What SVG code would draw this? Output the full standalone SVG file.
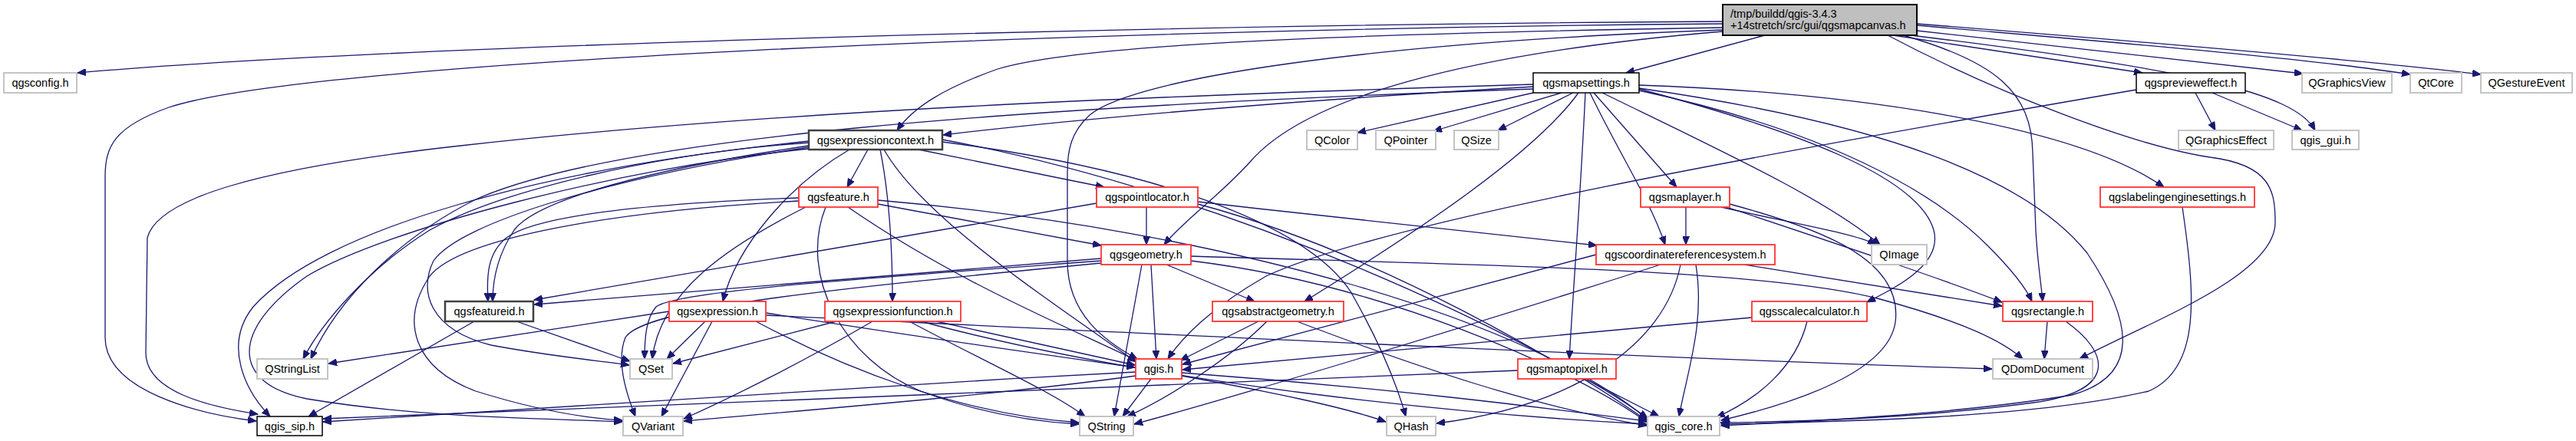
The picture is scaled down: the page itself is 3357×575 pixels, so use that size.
<svg xmlns="http://www.w3.org/2000/svg" width="3357" height="575" viewBox="0 0 3357 575">
<style>
.n rect{fill:#fff}
.b rect{stroke:#000;stroke-width:1.5}
.d rect{stroke:#404040;stroke-width:2.5}
.r rect{stroke:#ff3333;stroke-width:1.8}
.g rect{stroke:#c4c4c4;stroke-width:2}
text{font-family:"Liberation Sans",Arial,sans-serif;font-size:14.5px;fill:#000;text-anchor:middle}
#edges path{fill:none;stroke:#191970;stroke-width:1.3}
</style>
<defs>
<marker id="ah" markerWidth="12" markerHeight="9" refX="11" refY="4.5" orient="auto" markerUnits="userSpaceOnUse">
<path d="M0,0 L11,4.5 L0,9 z" fill="#191970" stroke="#191970" stroke-width="1"/>
</marker>
</defs>
<rect width="3357" height="575" fill="#fff"/>
<g id="edges" marker-end="url(#ah)">
<!-- top node -->
<path d="M2245,28 C1500,32 500,60 101,95"/>
<path d="M2245,31 C1400,38 400,80 220,140 C150,165 137,190 137,230 L137,440 C137,510 260,540 334,549"/>
<path d="M2300,46 L2119,95"/>
<path d="M2245,36 C1700,45 1400,60 1300,90 C1230,115 1190,140 1169,170"/>
<path d="M2245,41 C1900,70 1700,130 1630,210 C1590,255 1545,285 1517,319"/>
<path d="M2245,39 C1800,55 1480,100 1420,150 C1396,172 1391,195 1391,225 L1391,340 C1391,410 1440,445 1482,468"/>
<path d="M2467,46 L2792,95"/>
<path d="M2498,40 L3001,96"/>
<path d="M2498,33 C2750,55 3000,75 3141,97"/>
<path d="M2498,31 C2800,55 3100,80 3233,97"/>
<path d="M2490,46 C2850,90 2990,120 3017,170"/>
<path d="M2480,46 C2600,80 2648,120 2649,200 L2653,300 C2655,340 2660,370 2662,393"/>
<path d="M2460,46 C2600,120 2780,190 2880,205 C2960,215 2965,250 2965,290 C2965,360 2800,420 2710,468"/>
<!-- qgsmapsettings -->
<path d="M1998,113 C1700,130 1400,155 1229,176"/>
<path d="M1998,110 C1500,125 1000,145 600,190 C330,220 205,260 192,310 L190,460 C190,510 270,530 336,540"/>
<path d="M1998,116 C1300,140 800,180 620,260 C520,310 440,390 405,468"/>
<path d="M1998,121 L1769,173"/>
<path d="M2035,121 L1868,171"/>
<path d="M2050,121 L1952,170"/>
<path d="M2057,121 C2000,200 1850,300 1700,393"/>
<path d="M2066,121 C2060,250 2052,350 2045,468"/>
<path d="M2072,121 C2110,200 2150,260 2170,319"/>
<path d="M2077,121 L2185,244"/>
<path d="M2088,121 C2250,200 2380,260 2450,319"/>
<path d="M2136,111 C2400,120 2700,160 2820,244"/>
<path d="M2136,116 C2340,170 2500,230 2520,300 C2532,345 2470,375 2433,394"/>
<path d="M2136,118 C2380,170 2520,250 2590,320 C2620,350 2640,375 2648,393"/>
<path d="M2136,115 C2450,160 2640,230 2720,330 C2780,420 2790,490 2700,515 C2550,540 2350,550 2243,555"/>
<!-- qgsexpressioncontext -->
<path d="M1131,195 L1104,244"/>
<path d="M1197,195 L1439,244"/>
<path d="M1107,195 C1030,240 960,320 942,393"/>
<path d="M1147,195 C1160,260 1163,330 1163,393"/>
<path d="M1152,195 C1200,280 1350,380 1481,472"/>
<path d="M1054,186 C850,200 650,250 560,300 C480,350 420,420 395,468"/>
<path d="M1054,190 C850,220 700,260 670,300 C650,330 642,360 642,393"/>
<path d="M1054,192 C800,230 600,290 565,340 C545,380 560,430 640,450 C720,465 780,470 820,476"/>
<path d="M1054,194 C800,220 500,300 400,360 C300,430 300,500 400,520 C550,545 700,545 811,550"/>
<path d="M1054,184 C700,220 420,300 330,400 C290,450 320,510 352,543"/>
<path d="M1228,185 C1500,220 1700,290 1760,380 C1800,450 1820,500 1832,543"/>
<path d="M1228,182 C1600,250 2000,440 2147,545"/>
<!-- qgsfeature -->
<path d="M1041,258 C850,265 700,280 660,310 C635,330 634,360 636,393"/>
<path d="M1144,266 L1435,320"/>
<path d="M1105,270 C1250,370 1400,430 1481,470"/>
<path d="M1050,270 C950,320 860,380 850,468"/>
<path d="M1041,262 C800,275 600,310 560,360 C520,420 540,480 620,510 C700,535 760,545 811,548"/>
<path d="M1076,270 C1040,360 1100,470 1200,510 C1280,540 1350,550 1406,553"/>
<path d="M1144,261 C1600,300 2000,420 2147,547"/>
<!-- qgspointlocator -->
<path d="M1494,270 L1494,319"/>
<path d="M1429,265 L696,391"/>
<path d="M1561,263 C1750,285 1950,305 2081,320"/>
<path d="M1561,266 C1800,330 2050,480 2147,549"/>
<!-- qgsmaplayer -->
<path d="M2197,270 L2197,319"/>
<path d="M2243,270 C2330,290 2420,305 2445,319"/>
<path d="M2250,270 C2400,320 2520,360 2609,394"/>
<path d="M2254,266 C2380,300 2480,340 2470,420 C2460,490 2320,530 2243,548"/>
<!-- qgslabelingenginesettings -->
<path d="M2844,270 C2860,380 2870,480 2800,510 C2650,545 2400,550 2243,553"/>
<!-- qgsprevieweffect -->
<path d="M2861,121 L2887,170"/>
<path d="M2883,121 L3000,170"/>
<path d="M2784,117 C2300,200 1800,290 1650,360 C1580,400 1540,440 1522,468"/>
<!-- qgsgeometry -->
<path d="M1435,337 L696,397"/>
<path d="M1520,345 L1635,393"/>
<path d="M1500,345 L1507,468"/>
<path d="M1488,345 L1452,543"/>
<path d="M1435,340 C1100,365 880,380 855,400 C842,415 840,440 840,468"/>
<path d="M1435,343 C1100,375 840,400 815,440 C803,470 815,510 828,543"/>
<path d="M1552,334 C1900,345 2300,350 2450,390 C2560,420 2610,445 2636,468"/>
<path d="M1552,340 C1800,370 2050,480 2147,551"/>
<!-- qgscoordinatereferencesystem -->
<path d="M2080,332 L1541,475"/>
<path d="M2164,345 C1900,430 1600,520 1478,553"/>
<path d="M2273,345 L2609,399"/>
<path d="M2210,345 C2222,420 2200,480 2188,543"/>
<path d="M2190,345 C2170,450 2050,530 1872,552"/>
<!-- qgsabstractgeometry -->
<path d="M1640,419 L1538,470"/>
<path d="M1651,419 C1600,470 1520,520 1469,543"/>
<path d="M1690,419 C1850,480 2000,530 2146,555"/>
<!-- qgsexpressionfunction -->
<path d="M1090,419 L877,474"/>
<path d="M1137,419 C1050,470 950,520 891,546"/>
<path d="M1185,419 C1280,470 1370,510 1414,543"/>
<path d="M1220,419 L1479,476"/>
<path d="M1200,419 C1500,500 1900,540 2146,553"/>
<!-- qgsexpression -->
<path d="M872,406 L428,474"/>
<path d="M919,419 L869,468"/>
<path d="M928,419 L862,543"/>
<path d="M998,408 C1200,440 1380,465 1479,479"/>
<path d="M985,419 C1100,480 1250,540 1406,551"/>
<path d="M998,411 C1500,435 2100,465 2596,481"/>
<!-- qgsfeatureid -->
<path d="M618,419 L402,543"/>
<path d="M673,419 L821,471"/>
<!-- qgsscalecalculator -->
<path d="M2283,414 L1541,482"/>
<path d="M2355,419 C2340,480 2290,520 2237,544"/>
<!-- qgsrectangle -->
<path d="M2668,419 L2664,468"/>
<path d="M2692,419 C2750,460 2760,510 2650,525 C2500,545 2350,550 2242,551"/>
<!-- qgis.h -->
<path d="M1480,485 C1100,505 700,530 421,550"/>
<path d="M1480,490 C1300,515 1050,535 891,549"/>
<path d="M1500,494 L1463,543"/>
<path d="M1540,490 C1650,510 1750,530 1806,550"/>
<path d="M1540,486 C1800,505 2000,530 2146,549"/>
<!-- qgsmaptopixel -->
<path d="M1978,483 C1500,500 900,530 421,546"/>
<path d="M2066,494 L2162,543"/>
</g>
<g id="n_top" class="n b"><rect x="2245" y="6" width="253" height="40" style="fill:#bfbfbf;stroke-width:2"/><text x="2255" y="23" style="text-anchor:start">/tmp/buildd/qgis-3.4.3</text><text x="2255" y="38" style="text-anchor:start">+14stretch/src/gui/qgsmapcanvas.h</text></g>
<g id="n_qgsconfig" class="n g"><rect x="5" y="95" width="95" height="26"/><text x="52.5" y="113">qgsconfig.h</text></g>
<g id="n_qgsmapsettings" class="n b"><rect x="1998" y="95" width="138" height="26"/><text x="2067" y="113">qgsmapsettings.h</text></g>
<g id="n_qgsprevieweffect" class="n b"><rect x="2784" y="95" width="142" height="26"/><text x="2855" y="113">qgsprevieweffect.h</text></g>
<g id="n_QGraphicsView" class="n g"><rect x="3000" y="95" width="117" height="26"/><text x="3058.5" y="113">QGraphicsView</text></g>
<g id="n_QtCore" class="n g"><rect x="3141" y="95" width="67" height="26"/><text x="3174.5" y="113">QtCore</text></g>
<g id="n_QGestureEvent" class="n g"><rect x="3233" y="95" width="119" height="26"/><text x="3292.5" y="113">QGestureEvent</text></g>
<g id="n_qgsexpressioncontext" class="n d"><rect x="1054" y="170" width="174" height="25"/><text x="1141" y="188">qgsexpressioncontext.h</text></g>
<g id="n_QColor" class="n g"><rect x="1703" y="170" width="66" height="25"/><text x="1736" y="188">QColor</text></g>
<g id="n_QPointer" class="n g"><rect x="1793" y="170" width="78" height="25"/><text x="1832" y="188">QPointer</text></g>
<g id="n_QSize" class="n g"><rect x="1895" y="170" width="58" height="25"/><text x="1924" y="188">QSize</text></g>
<g id="n_QGraphicsEffect" class="n g"><rect x="2839" y="170" width="124" height="25"/><text x="2901" y="188">QGraphicsEffect</text></g>
<g id="n_qgis_gui" class="n g"><rect x="2987" y="170" width="87" height="25"/><text x="3030.5" y="188">qgis_gui.h</text></g>
<g id="n_qgsfeature" class="n r"><rect x="1041" y="244" width="103" height="26"/><text x="1092.5" y="262">qgsfeature.h</text></g>
<g id="n_qgspointlocator" class="n r"><rect x="1429" y="244" width="132" height="26"/><text x="1495" y="262">qgspointlocator.h</text></g>
<g id="n_qgsmaplayer" class="n r"><rect x="2138" y="244" width="116" height="26"/><text x="2196" y="262">qgsmaplayer.h</text></g>
<g id="n_qgslabelingenginesettings" class="n r"><rect x="2737" y="244" width="201" height="26"/><text x="2837.5" y="262">qgslabelingenginesettings.h</text></g>
<g id="n_qgsgeometry" class="n r"><rect x="1435" y="319" width="117" height="26"/><text x="1493.5" y="337">qgsgeometry.h</text></g>
<g id="n_qgscrs" class="n r"><rect x="2080" y="319" width="233" height="26"/><text x="2196.5" y="337">qgscoordinatereferencesystem.h</text></g>
<g id="n_QImage" class="n g"><rect x="2439" y="319" width="72" height="26"/><text x="2475" y="337">QImage</text></g>
<g id="n_qgsfeatureid" class="n d"><rect x="580" y="393" width="115" height="26"/><text x="637.5" y="411">qgsfeatureid.h</text></g>
<g id="n_qgsexpression" class="n r"><rect x="872" y="393" width="126" height="26"/><text x="935" y="411">qgsexpression.h</text></g>
<g id="n_qgsexpressionfunction" class="n r"><rect x="1075" y="393" width="177" height="26"/><text x="1163.5" y="411">qgsexpressionfunction.h</text></g>
<g id="n_qgsabstractgeometry" class="n r"><rect x="1580" y="393" width="171" height="26"/><text x="1665.5" y="411">qgsabstractgeometry.h</text></g>
<g id="n_qgsscalecalculator" class="n r"><rect x="2283" y="393" width="150" height="26"/><text x="2358" y="411">qgsscalecalculator.h</text></g>
<g id="n_qgsrectangle" class="n r"><rect x="2610" y="393" width="117" height="26"/><text x="2668.5" y="411">qgsrectangle.h</text></g>
<g id="n_QStringList" class="n g"><rect x="335" y="468" width="92" height="26"/><text x="381" y="486">QStringList</text></g>
<g id="n_QSet" class="n g"><rect x="821" y="468" width="55" height="26"/><text x="848.5" y="486">QSet</text></g>
<g id="n_qgis" class="n r"><rect x="1480" y="468" width="60" height="26"/><text x="1510" y="486">qgis.h</text></g>
<g id="n_qgsmaptopixel" class="n r"><rect x="1978" y="468" width="128" height="26"/><text x="2042" y="486">qgsmaptopixel.h</text></g>
<g id="n_QDomDocument" class="n g"><rect x="2597" y="468" width="130" height="26"/><text x="2662" y="486">QDomDocument</text></g>
<g id="n_qgis_sip" class="n b"><rect x="335" y="543" width="85" height="25"/><text x="377.5" y="561">qgis_sip.h</text></g>
<g id="n_QVariant" class="n g"><rect x="812" y="543" width="78" height="25"/><text x="851" y="561">QVariant</text></g>
<g id="n_QString" class="n g"><rect x="1407" y="543" width="70" height="25"/><text x="1442" y="561">QString</text></g>
<g id="n_QHash" class="n g"><rect x="1807" y="543" width="64" height="25"/><text x="1839" y="561">QHash</text></g>
<g id="n_qgis_core" class="n g"><rect x="2147" y="543" width="94" height="25"/><text x="2194" y="561">qgis_core.h</text></g>
</svg>
